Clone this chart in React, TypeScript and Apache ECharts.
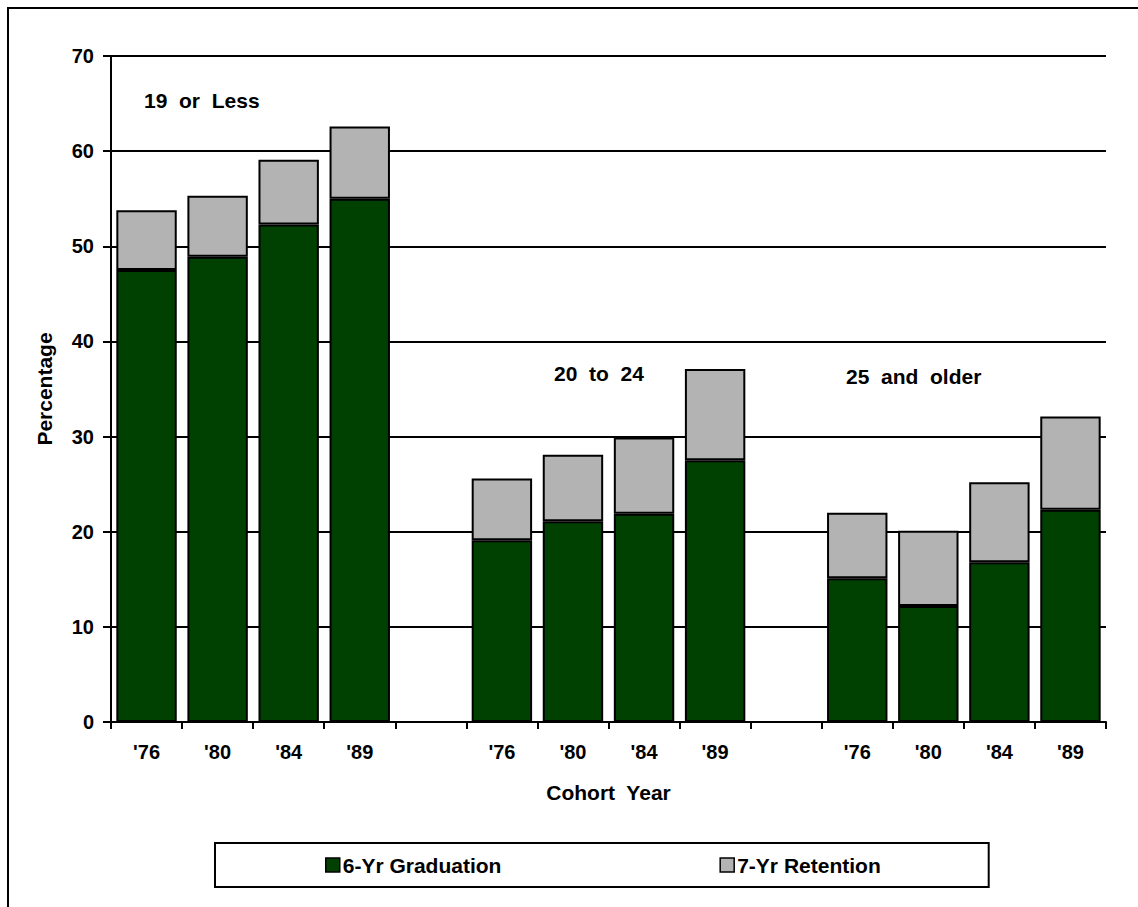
import React, { useEffect, useRef } from "react";
import * as echarts from "echarts";

const cohortYears = ["'76", "'80", "'84", "'89"];
const groupLabels = ["19  or  Less", "20  to  24", "25  and  older"];
const grad19 = [47.5, 48.9, 52.3, 55.0];
const ret19 = [6.3, 6.4, 6.8, 7.6];
const grad20 = [19.1, 21.1, 21.9, 27.5];
const ret20 = [6.5, 7.0, 8.0, 9.6];
const grad25 = [15.1, 12.2, 16.8, 22.3];
const ret25 = [6.9, 7.9, 8.4, 9.8];
const yTicks = { min: 0, max: 70, interval: 10 };

const FONT = "'Liberation Sans', Arial, sans-serif";

export default function App() {
  const ref = useRef<HTMLDivElement>(null);
  useEffect(() => {
    if (!ref.current) return;
    const chart = echarts.init(ref.current, undefined, { renderer: "svg" });
    const categories = [...cohortYears, "", ...cohortYears, "", ...cohortYears];
    const gap: any = "-";
    const gradData = [...grad19, gap, ...grad20, gap, ...grad25];
    const retData = [...ret19, gap, ...ret20, gap, ...ret25];
    const labelStyle = { fontFamily: FONT, fontWeight: "bold" as const, fontSize: 21, fill: "#000" };
    chart.setOption({
      animation: false,
      backgroundColor: "#fff",
      textStyle: { fontFamily: FONT },
      grid: { left: 111, top: 56, width: 995, height: 666 },
      xAxis: {
        type: "category",
        data: categories,
        boundaryGap: true,
        axisLine: { lineStyle: { color: "#000", width: 2 } },
        axisTick: { show: true, alignWithLabel: false, interval: 0, length: 7, lineStyle: { color: "#000", width: 2 } },
        axisLabel: { interval: 0, margin: 20, color: "#000", fontWeight: "bold", fontSize: 20, fontFamily: FONT },
        name: "Cohort  Year",
        nameLocation: "middle",
        nameGap: 60,
        nameTextStyle: { color: "#000", fontWeight: "bold", fontSize: 21, fontFamily: FONT },
      },
      yAxis: {
        type: "value",
        min: yTicks.min,
        max: yTicks.max,
        interval: yTicks.interval,
        axisLine: { show: true, lineStyle: { color: "#000", width: 2 } },
        axisTick: { show: true, length: 8, lineStyle: { color: "#000", width: 2 } },
        axisLabel: { margin: 17, color: "#000", fontWeight: "bold", fontSize: 20, fontFamily: FONT },
        splitLine: { show: true, lineStyle: { color: "#000", width: 2 } },
        name: "Percentage",
        nameLocation: "middle",
        nameGap: 56,
        nameTextStyle: { color: "#000", fontWeight: "bold", fontSize: 21, fontFamily: FONT },
      },
      legend: {
        left: 215,
        top: 843,
        icon: "rect",
        itemWidth: 14,
        itemHeight: 14,
        itemGap: 218,
        padding: [11, 108, 11, 110],
        borderColor: "#000",
        borderWidth: 2,
        backgroundColor: "#fff",
        textStyle: { color: "#000", fontWeight: "bold", fontSize: 21, fontFamily: FONT, padding: [0, 0, 0, -2], lineHeight: 22 },
        itemStyle: { borderColor: "#000", borderWidth: 1.5 },
        data: ["6-Yr Graduation", "7-Yr Retention"],
      },
      graphic: [
        {
          type: "rect",
          shape: { x: 8, y: 8, width: 1300, height: 1100 },
          style: { fill: "none", stroke: "#000", lineWidth: 2 },
          silent: true,
          z: 100,
        },
        { type: "text", x: 144, y: 100, style: { ...labelStyle, text: groupLabels[0], verticalAlign: "middle" } },
        { type: "text", x: 554, y: 373, style: { ...labelStyle, text: groupLabels[1], verticalAlign: "middle" } },
        { type: "text", x: 846, y: 376, style: { ...labelStyle, text: groupLabels[2], verticalAlign: "middle" } },
      ],
      series: [
        {
          name: "6-Yr Graduation",
          type: "bar",
          stack: "total",
          data: gradData,
          barCategoryGap: "15%",
          itemStyle: { color: "#004000", borderColor: "#000", borderWidth: 2 },
        },
        {
          name: "7-Yr Retention",
          type: "bar",
          stack: "total",
          data: retData,
          barCategoryGap: "15%",
          itemStyle: { color: "#b3b3b3", borderColor: "#000", borderWidth: 2 },
        },
      ],
    });
    return () => chart.dispose();
  }, []);
  return (
    <div
      ref={ref}
      style={{ position: "absolute", left: 0, top: 0, width: 1138, height: 907 }}
    />
  );
}
